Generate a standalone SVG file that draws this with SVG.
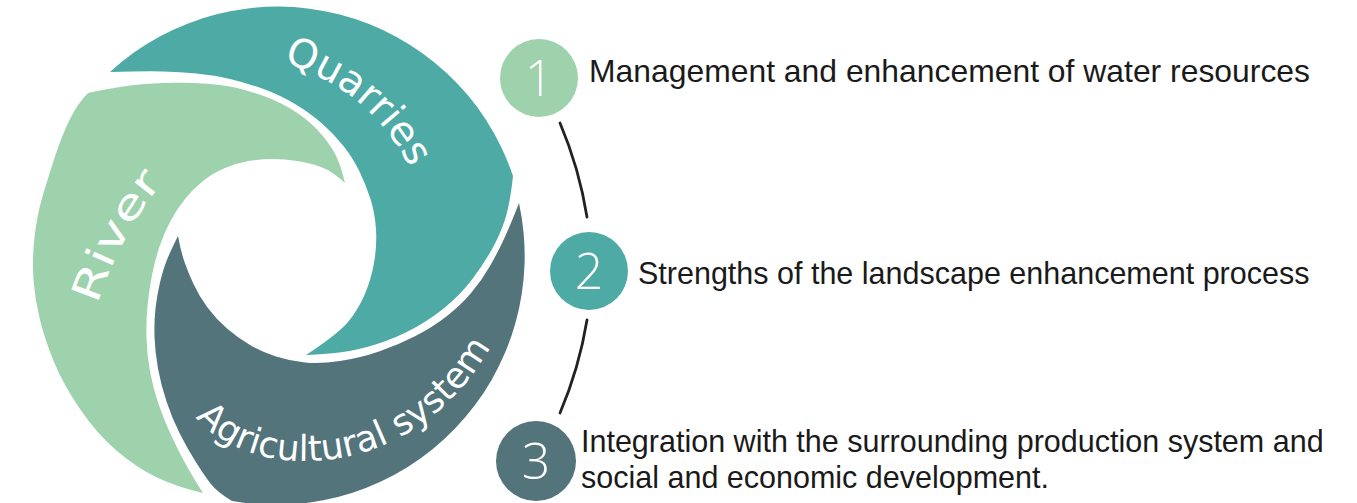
<svg xmlns="http://www.w3.org/2000/svg" width="1357" height="503" viewBox="0 0 1357 503">
<style>
.lg{fill:#9ED2AC}.tl{fill:#4DAAA5}.dk{fill:#52747A}
.sw{font-family:"DejaVu Sans","Open Sans",sans-serif;fill:#fff}
.num{font-family:"Open Sans","Liberation Sans",sans-serif;font-weight:300;font-size:50px;fill:#fff;text-anchor:middle}
.t{font-family:"Liberation Sans",Arial,sans-serif;font-size:30.5px;fill:#1a1a1a}
.con{fill:none;stroke:#222;stroke-width:2.8;stroke-linecap:round}
</style>
<defs>
<path id="pq" d="M 283,62 Q 385,95 420,192"/>
<path id="pr" d="M 97,305 Q 125,222 172,172"/>
<path id="pa" d="M 196,417 C 250,485 430,490 505,318"/>
</defs>
<g id="river">
<path class="lg" d="M 88,93 Q 120,86 145,84 Q 170,82 195,83 Q 220,84 235,87.5 Q 250,91 265,96.5 Q 280,102 293.5,110.5 Q 307,119 317,129.5 Q 327,140 333.5,151 Q 340,162 345,183 Q 332,171 321,167 Q 310,163 297.5,161 Q 285,159 272.5,159 Q 260,159 248.5,161 Q 237,163 225,168 Q 213,173 203,181 Q 193,189 185,199 Q 177,209 170.5,221 Q 164,233 159.5,246.5 Q 155,260 152,275 Q 149,290 147.5,306 Q 146,322 146.5,338.5 Q 147,355 150,371.5 Q 153,388 158.5,404 Q 164,420 171,435 Q 178,450 184.5,462 Q 191,474 203,493 Q 177,487 157,477.5 Q 137,468 117,451 Q 97,434 80,409 Q 63,384 54,362 Q 45,340 40,320 Q 35,300 33.5,280 Q 32,260 34.5,237.5 Q 37,215 42.5,196.5 Q 48,178 55,156.5 Q 62,135 70,119 Q 78,103 88,93 Z"/>
<text class="sw" font-size="40"><textPath href="#pr" textLength="140" lengthAdjust="spacingAndGlyphs">River</textPath></text>
</g>
<g id="quarries">
<path class="tl" d="M 110,72 A 248 248 0 0 1 513,176 Q 510,204 505,219.5 Q 500,235 491.5,250 Q 483,265 472,279.5 Q 461,294 446,306.5 Q 431,319 413.5,328.5 Q 396,338 377,344 Q 358,350 343,352 Q 328,354 306,355 Q 338,334 348,322 Q 358,310 364.5,295 Q 371,280 374,263 Q 377,246 376,229.5 Q 375,213 370.5,199 Q 366,185 359.5,171.5 Q 353,158 343.5,146 Q 334,134 322,123.5 Q 310,113 295,104 Q 280,95 263.5,89 Q 247,83 230,79 Q 213,75 196.5,73.5 Q 180,72 163.5,71.5 Q 147,71 110,72 Z"/>
<text class="sw" font-size="40"><textPath href="#pq" textLength="170" lengthAdjust="spacingAndGlyphs">Quarries</textPath></text>
</g>
<g id="agricultural">
<path class="dk" d="M 178,236 Q 170,252 166.5,261 Q 163,270 160,282.5 Q 157,295 155.5,308.5 Q 154,322 154.5,337 Q 155,352 158,368.5 Q 161,385 166.5,401.5 Q 172,418 179.5,433 Q 187,448 195.5,461.5 Q 204,475 210.5,483.5 Q 217,492 232,501 A 249 249 0 0 0 519,203 Q 510,226 504,239 Q 498,252 490,266 Q 482,280 471.5,292.5 Q 461,305 447,316 Q 433,327 415.5,336 Q 398,345 379,351.5 Q 360,358 340,361 Q 320,364 305,362.5 Q 290,361 276,356.5 Q 262,352 250,345 Q 238,338 227,328.5 Q 216,319 207.5,307.5 Q 199,296 193.5,284 Q 188,272 184.5,262 Q 181,252 178,236 Z"/>
<text class="sw" font-size="36"><textPath href="#pa" textLength="350" lengthAdjust="spacingAndGlyphs">Agricultural system</textPath></text>
</g>
<g id="connectors">
<path class="con" d="M 560,123 A 403 403 0 0 1 587,217"/>
<path class="con" d="M 587,320 A 403 403 0 0 1 560,413"/>
</g>
<g id="step1">
<circle class="lg" cx="539" cy="78" r="39"/>
<text class="num" x="539" y="96">1</text>
<text class="t" x="589" y="82" style="font-size:31.2px" textLength="721" lengthAdjust="spacingAndGlyphs">Management and enhancement of water resources</text>
</g>
<g id="step2">
<circle class="tl" cx="589" cy="271" r="39"/>
<text class="num" x="589" y="289">2</text>
<text class="t" x="638" y="284">Strengths of the landscape enhancement process</text>
</g>
<g id="step3">
<circle class="dk" cx="536" cy="461" r="40"/>
<text class="num" x="536" y="479">3</text>
<text class="t" x="581" y="452">Integration with the surrounding production system and</text>
<text class="t" x="581" y="488">social and economic development.</text>
</g>
</svg>
